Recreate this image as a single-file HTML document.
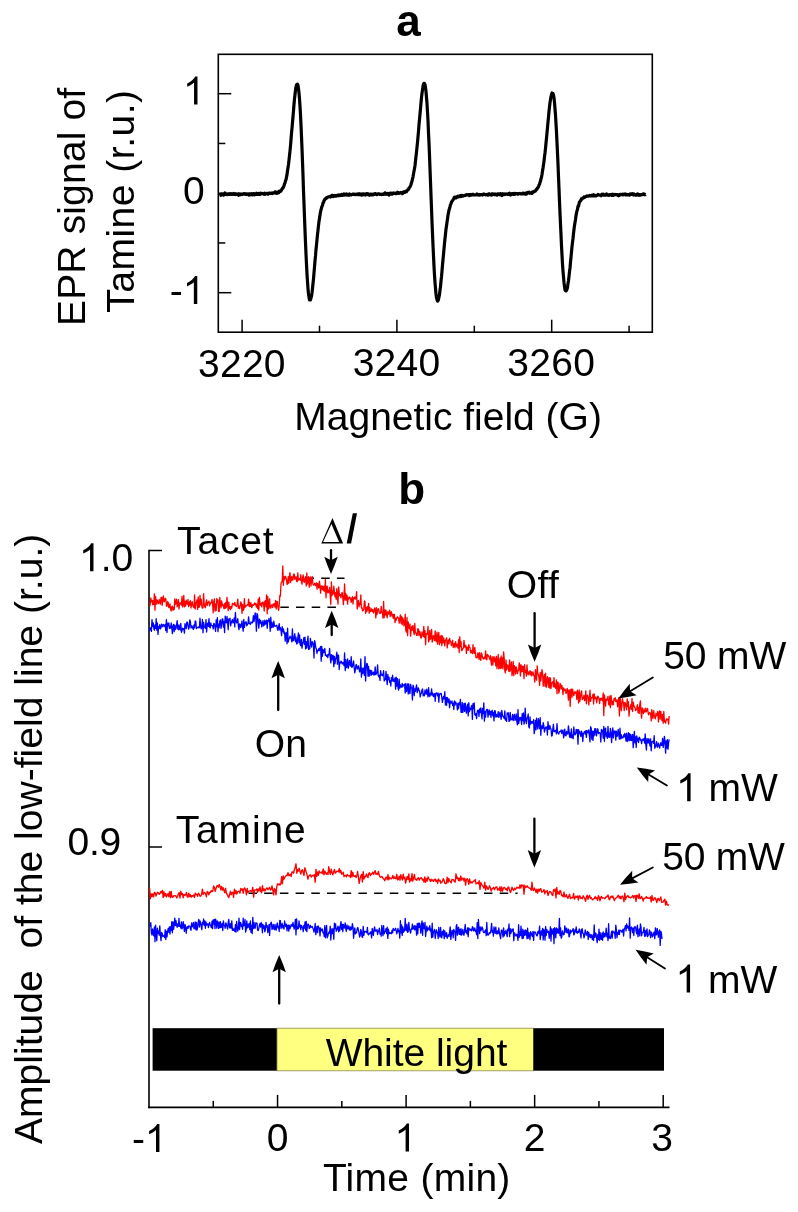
<!DOCTYPE html>
<html><head><meta charset="utf-8"><style>
html,body{margin:0;padding:0;background:#fff;}
body{width:798px;height:1212px;overflow:hidden;}
svg{display:block;will-change:transform;}
text{font-family:"Liberation Sans", sans-serif;fill:#000;}
</style></head><body>
<svg width="798" height="1212" viewBox="0 0 798 1212">
<rect width="798" height="1212" fill="#fff"/>
<rect x="218.3" y="54.3" width="433.99999999999994" height="277.9" fill="none" stroke="#000" stroke-width="1.6"/>
<line x1="218.30" y1="93.70" x2="231.30" y2="93.70" stroke="#000" stroke-width="1.5" />
<line x1="218.30" y1="143.45" x2="225.30" y2="143.45" stroke="#000" stroke-width="1.5" />
<line x1="218.30" y1="193.20" x2="231.30" y2="193.20" stroke="#000" stroke-width="1.5" />
<line x1="218.30" y1="242.95" x2="225.30" y2="242.95" stroke="#000" stroke-width="1.5" />
<line x1="218.30" y1="292.70" x2="231.30" y2="292.70" stroke="#000" stroke-width="1.5" />
<line x1="242.10" y1="332.20" x2="242.10" y2="319.70" stroke="#000" stroke-width="1.5" />
<line x1="319.50" y1="332.20" x2="319.50" y2="325.70" stroke="#000" stroke-width="1.5" />
<line x1="396.90" y1="332.20" x2="396.90" y2="319.70" stroke="#000" stroke-width="1.5" />
<line x1="474.30" y1="332.20" x2="474.30" y2="325.70" stroke="#000" stroke-width="1.5" />
<line x1="551.70" y1="332.20" x2="551.70" y2="319.70" stroke="#000" stroke-width="1.5" />
<line x1="629.10" y1="332.20" x2="629.10" y2="325.70" stroke="#000" stroke-width="1.5" />
<polyline points="220.5,193.5 221.0,195.3 221.5,194.1 222.0,194.5 222.5,194.5 223.0,194.4 223.5,195.1 224.0,194.4 224.5,194.6 225.0,193.0 225.5,194.2 226.0,194.4 226.5,194.4 227.0,194.6 227.5,194.7 228.0,194.4 228.5,194.1 229.0,194.4 229.5,193.9 230.0,194.4 230.5,194.3 231.0,193.7 231.5,194.0 232.0,194.5 232.5,194.3 233.0,194.0 233.5,193.5 234.0,194.4 234.5,194.3 235.0,193.8 235.5,194.6 236.0,194.4 236.5,193.9 237.0,194.0 237.5,194.2 238.0,194.0 238.5,195.3 239.0,193.8 239.5,194.6 240.0,194.9 240.5,194.1 241.0,193.9 241.5,194.4 242.0,194.6 242.5,194.2 243.0,194.2 243.5,193.6 244.0,193.9 244.5,194.1 245.0,193.7 245.5,194.2 246.0,194.5 246.5,193.9 247.0,193.9 247.5,194.2 248.0,194.4 248.5,194.0 249.0,195.1 249.5,193.8 250.0,193.9 250.5,194.7 251.0,194.1 251.5,194.5 252.0,193.8 252.5,194.9 253.0,194.4 253.5,193.8 254.0,193.6 254.5,194.9 255.0,194.2 255.5,193.9 256.0,194.2 256.5,193.3 257.0,194.4 257.5,193.8 258.0,194.4 258.5,193.4 259.0,193.9 259.5,194.0 260.0,194.6 260.5,193.2 261.0,193.5 261.5,193.5 262.0,193.4 262.5,193.7 263.0,194.0 263.5,194.1 264.0,194.0 264.5,193.2 265.0,194.3 265.5,193.9 266.0,193.8 266.5,193.5 267.0,193.3 267.5,194.0 268.0,194.2 268.5,193.5 269.0,193.0 269.5,193.1 270.0,193.3 270.5,193.5 271.0,193.2 271.5,193.3 272.0,192.9 272.5,193.5 273.0,193.0 273.5,193.1 274.0,192.7 274.5,192.8 275.0,191.8 275.5,192.1 276.0,192.0 276.5,193.4 277.0,192.6 277.5,192.5 278.0,191.9 278.5,192.9 279.0,191.3 279.5,191.1 280.0,191.8 280.5,191.3 281.0,190.8 281.5,190.0 282.0,189.2 282.5,188.0 283.0,188.1 283.5,186.8 284.0,185.9 284.5,184.0 285.0,182.9 285.5,180.8 286.0,179.8 286.5,177.1 287.0,174.7 287.5,170.7 288.0,167.7 288.5,164.3 289.0,160.2 289.5,155.3 290.0,150.9 290.5,145.8 291.0,139.7 291.5,133.2 292.0,128.3 292.5,122.4 293.0,116.6 293.5,110.7 294.0,104.3 294.5,98.9 295.0,94.5 295.5,90.3 296.0,87.1 296.5,84.9 297.0,84.4 297.5,84.1 298.0,85.4 298.5,88.7 299.0,93.0 299.5,99.0 300.0,106.3 300.5,114.6 301.0,125.3 301.5,136.6 302.0,148.6 302.5,161.9 303.0,175.3 303.5,190.9 304.0,203.6 304.5,217.6 305.0,230.4 305.5,242.6 306.0,254.0 306.5,264.5 307.0,274.1 307.5,281.5 308.0,288.8 308.5,293.8 309.0,297.1 309.5,299.9 310.0,299.7 310.5,299.8 311.0,297.9 311.5,296.2 312.0,292.9 312.5,288.5 313.0,283.5 313.5,278.8 314.0,272.8 314.5,267.2 315.0,260.8 315.5,255.9 316.0,249.5 316.5,244.8 317.0,239.7 317.5,234.7 318.0,230.3 318.5,225.6 319.0,221.4 319.5,218.3 320.0,215.0 320.5,211.9 321.0,210.0 321.5,207.9 322.0,206.2 322.5,205.2 323.0,202.8 323.5,202.7 324.0,200.7 324.5,200.1 325.0,199.0 325.5,198.8 326.0,198.6 326.5,197.7 327.0,197.8 327.5,197.3 328.0,197.0 328.5,196.8 329.0,196.7 329.5,196.8 330.0,196.4 330.5,197.0 331.0,196.1 331.5,196.4 332.0,195.4 332.5,195.3 333.0,196.5 333.5,195.6 334.0,195.7 334.5,196.0 335.0,195.3 335.5,195.6 336.0,196.1 336.5,195.5 337.0,195.4 337.5,195.2 338.0,195.7 338.5,195.0 339.0,194.9 339.5,195.6 340.0,195.4 340.5,195.1 341.0,195.3 341.5,194.3 342.0,194.9 342.5,195.4 343.0,195.3 343.5,195.0 344.0,194.0 344.5,195.0 345.0,194.8 345.5,194.6 346.0,194.8 346.5,193.9 347.0,195.0 347.5,194.5 348.0,194.7 348.5,194.5 349.0,195.2 349.5,194.0 350.0,194.7 350.5,194.7 351.0,195.0 351.5,194.9 352.0,194.4 352.5,194.2 353.0,194.3 353.5,194.1 354.0,194.3 354.5,194.6 355.0,194.2 355.5,194.3 356.0,194.6 356.5,194.3 357.0,194.0 357.5,194.4 358.0,194.7 358.5,194.2 359.0,193.7 359.5,194.6 360.0,194.5 360.5,194.5 361.0,194.0 361.5,195.2 362.0,194.3 362.5,194.0 363.0,194.8 363.5,193.8 364.0,194.2 364.5,194.6 365.0,194.3 365.5,195.0 366.0,194.6 366.5,193.6 367.0,194.7 367.5,193.6 368.0,194.4 368.5,193.9 369.0,194.3 369.5,195.2 370.0,194.5 370.5,194.2 371.0,194.8 371.5,194.8 372.0,194.1 372.5,194.5 373.0,194.9 373.5,194.5 374.0,193.9 374.5,194.4 375.0,193.8 375.5,193.6 376.0,194.2 376.5,194.6 377.0,194.7 377.5,194.2 378.0,193.8 378.5,194.0 379.0,193.9 379.5,194.3 380.0,194.0 380.5,194.3 381.0,194.2 381.5,194.6 382.0,194.7 382.5,194.2 383.0,194.5 383.5,194.4 384.0,193.7 384.5,194.0 385.0,192.8 385.5,193.6 386.0,194.2 386.5,193.6 387.0,193.8 387.5,194.2 388.0,193.4 388.5,194.1 389.0,195.0 389.5,193.5 390.0,194.0 390.5,193.2 391.0,194.0 391.5,194.2 392.0,193.1 392.5,194.1 393.0,193.5 393.5,193.0 394.0,193.5 394.5,193.5 395.0,193.4 395.5,193.1 396.0,193.7 396.5,193.1 397.0,193.1 397.5,192.3 398.0,193.4 398.5,193.5 399.0,192.8 399.5,193.2 400.0,192.9 400.5,192.9 401.0,192.4 401.5,193.0 402.0,192.7 402.5,193.6 403.0,192.8 403.5,191.8 404.0,192.5 404.5,192.3 405.0,192.4 405.5,191.4 406.0,191.3 406.5,191.6 407.0,190.5 407.5,190.2 408.0,189.5 408.5,189.5 409.0,187.9 409.5,187.6 410.0,186.9 410.5,185.9 411.0,184.5 411.5,182.6 412.0,181.3 412.5,178.8 413.0,176.8 413.5,173.9 414.0,171.3 414.5,168.5 415.0,165.7 415.5,160.9 416.0,156.5 416.5,152.1 417.0,147.1 417.5,142.3 418.0,136.8 418.5,131.4 419.0,124.8 419.5,119.4 420.0,114.0 420.5,108.7 421.0,102.9 421.5,97.3 422.0,93.3 422.5,90.0 423.0,86.2 423.5,84.1 424.0,83.3 424.5,83.5 425.0,84.7 425.5,87.6 426.0,91.5 426.5,97.5 427.0,103.4 427.5,112.0 428.0,120.6 428.5,132.8 429.0,143.2 429.5,155.4 430.0,168.9 430.5,182.0 431.0,195.4 431.5,208.5 432.0,221.8 432.5,233.9 433.0,245.2 433.5,255.9 434.0,266.2 434.5,275.0 435.0,282.5 435.5,288.4 436.0,294.1 436.5,297.8 437.0,299.5 437.5,301.1 438.0,300.8 438.5,299.3 439.0,297.0 439.5,294.6 440.0,290.1 440.5,286.8 441.0,281.0 441.5,276.7 442.0,271.2 442.5,264.9 443.0,259.7 443.5,254.4 444.0,248.9 444.5,243.4 445.0,238.6 445.5,234.0 446.0,229.2 446.5,225.9 447.0,222.2 447.5,218.9 448.0,215.2 448.5,212.6 449.0,210.1 449.5,208.5 450.0,206.7 450.5,204.7 451.0,203.8 451.5,202.1 452.0,201.2 452.5,200.8 453.0,199.9 453.5,199.2 454.0,198.0 454.5,197.2 455.0,197.8 455.5,197.5 456.0,198.1 456.5,196.9 457.0,196.8 457.5,197.0 458.0,196.1 458.5,196.9 459.0,196.3 459.5,196.0 460.0,196.5 460.5,195.6 461.0,195.4 461.5,196.3 462.0,196.3 462.5,195.4 463.0,195.6 463.5,196.0 464.0,195.6 464.5,195.5 465.0,195.5 465.5,195.0 466.0,195.2 466.5,194.6 467.0,194.7 467.5,195.0 468.0,194.8 468.5,194.6 469.0,194.8 469.5,195.6 470.0,194.7 470.5,195.0 471.0,194.4 471.5,195.0 472.0,194.8 472.5,194.8 473.0,194.3 473.5,194.8 474.0,195.0 474.5,194.8 475.0,195.0 475.5,194.8 476.0,194.8 476.5,194.7 477.0,194.0 477.5,194.9 478.0,194.7 478.5,194.8 479.0,194.5 479.5,195.2 480.0,195.0 480.5,194.7 481.0,194.5 481.5,194.7 482.0,194.8 482.5,195.0 483.0,194.4 483.5,194.0 484.0,194.5 484.5,194.5 485.0,194.4 485.5,194.9 486.0,194.7 486.5,194.7 487.0,194.4 487.5,194.5 488.0,195.0 488.5,194.1 489.0,193.8 489.5,194.6 490.0,194.3 490.5,194.4 491.0,194.2 491.5,195.1 492.0,193.8 492.5,194.6 493.0,193.9 493.5,194.4 494.0,194.6 494.5,194.5 495.0,194.0 495.5,194.7 496.0,194.5 496.5,194.6 497.0,195.1 497.5,193.8 498.0,194.1 498.5,194.4 499.0,193.9 499.5,194.7 500.0,194.4 500.5,193.6 501.0,193.9 501.5,195.2 502.0,195.6 502.5,194.7 503.0,193.8 503.5,194.4 504.0,194.3 504.5,194.0 505.0,194.6 505.5,194.1 506.0,193.9 506.5,194.0 507.0,194.0 507.5,194.4 508.0,194.0 508.5,194.3 509.0,193.6 509.5,193.1 510.0,194.4 510.5,195.0 511.0,194.3 511.5,193.9 512.0,193.6 512.5,193.6 513.0,194.3 513.5,194.3 514.0,193.5 514.5,194.4 515.0,193.5 515.5,194.0 516.0,193.6 516.5,193.6 517.0,193.6 517.5,193.5 518.0,194.2 518.5,193.7 519.0,193.8 519.5,193.7 520.0,193.3 520.5,193.8 521.0,194.0 521.5,194.0 522.0,193.8 522.5,193.3 523.0,193.9 523.5,193.1 524.0,193.4 524.5,193.6 525.0,194.0 525.5,193.3 526.0,193.1 526.5,194.0 527.0,192.8 527.5,192.5 528.0,193.0 528.5,192.9 529.0,192.1 529.5,192.5 530.0,193.2 530.5,192.8 531.0,192.7 531.5,192.6 532.0,193.4 532.5,192.0 533.0,192.4 533.5,191.9 534.0,191.8 534.5,191.1 535.0,191.2 535.5,191.1 536.0,190.1 536.5,189.2 537.0,189.3 537.5,187.9 538.0,187.5 538.5,186.9 539.0,184.9 539.5,184.5 540.0,182.3 540.5,181.1 541.0,178.8 541.5,177.2 542.0,174.5 542.5,170.9 543.0,168.1 543.5,164.7 544.0,161.1 544.5,156.7 545.0,153.0 545.5,148.3 546.0,143.0 546.5,138.2 547.0,132.9 547.5,127.4 548.0,122.1 548.5,117.0 549.0,111.3 549.5,106.9 550.0,102.6 550.5,99.4 551.0,96.6 551.5,94.8 552.0,93.0 552.5,93.4 553.0,93.6 553.5,95.0 554.0,97.8 554.5,102.4 555.0,108.8 555.5,115.1 556.0,123.7 556.5,132.1 557.0,142.6 557.5,153.1 558.0,164.0 558.5,176.7 559.0,188.5 559.5,201.4 560.0,213.3 560.5,224.1 561.0,234.8 561.5,245.9 562.0,255.1 562.5,264.1 563.0,271.1 563.5,276.9 564.0,282.4 564.5,286.6 565.0,289.7 565.5,290.6 566.0,290.9 566.5,290.5 567.0,289.2 567.5,287.6 568.0,283.4 568.5,280.5 569.0,276.4 569.5,271.6 570.0,268.0 570.5,262.2 571.0,257.2 571.5,252.0 572.0,246.7 572.5,242.2 573.0,238.5 573.5,233.6 574.0,229.2 574.5,225.4 575.0,222.5 575.5,219.4 576.0,215.6 576.5,213.0 577.0,210.8 577.5,209.4 578.0,206.2 578.5,206.4 579.0,204.0 579.5,201.8 580.0,201.7 580.5,200.6 581.0,200.4 581.5,198.7 582.0,199.2 582.5,198.1 583.0,197.8 583.5,197.9 584.0,196.9 584.5,197.5 585.0,197.0 585.5,196.6 586.0,196.6 586.5,196.1 587.0,195.8 587.5,196.2 588.0,196.2 588.5,196.1 589.0,196.0 589.5,195.4 590.0,195.8 590.5,195.5 591.0,195.6 591.5,195.9 592.0,195.2 592.5,195.9 593.0,195.4 593.5,194.8 594.0,195.8 594.5,195.3 595.0,195.9 595.5,195.4 596.0,195.8 596.5,195.3 597.0,195.4 597.5,195.1 598.0,194.5 598.5,195.0 599.0,194.8 599.5,195.1 600.0,195.1 600.5,195.3 601.0,195.7 601.5,194.9 602.0,194.3 602.5,194.7 603.0,195.1 603.5,194.2 604.0,195.1 604.5,195.1 605.0,195.3 605.5,195.2 606.0,194.9 606.5,194.0 607.0,194.9 607.5,195.2 608.0,195.0 608.5,194.9 609.0,195.4 609.5,194.7 610.0,194.5 610.5,194.6 611.0,194.5 611.5,195.2 612.0,195.4 612.5,194.2 613.0,194.3 613.5,195.3 614.0,194.6 614.5,194.7 615.0,194.4 615.5,194.6 616.0,194.8 616.5,194.6 617.0,194.6 617.5,194.6 618.0,195.4 618.5,195.8 619.0,194.9 619.5,195.3 620.0,194.5 620.5,194.3 621.0,194.5 621.5,194.7 622.0,194.6 622.5,194.1 623.0,194.9 623.5,194.2 624.0,194.3 624.5,194.5 625.0,194.0 625.5,194.8 626.0,194.2 626.5,194.9 627.0,194.9 627.5,195.0 628.0,194.4 628.5,194.9 629.0,194.5 629.5,195.0 630.0,194.1 630.5,193.8 631.0,194.4 631.5,193.9 632.0,194.3 632.5,193.7 633.0,194.5 633.5,195.1 634.0,193.9 634.5,194.6 635.0,194.9 635.5,194.8 636.0,195.2 636.5,194.6 637.0,194.9 637.5,193.9 638.0,194.2 638.5,195.2 639.0,195.1 639.5,194.7 640.0,195.3 640.5,194.5 641.0,194.5 641.5,194.8 642.0,194.7 642.5,194.3 643.0,193.9 643.5,193.9 644.0,194.5 644.5,194.1 645.0,194.8 645.5,194.3" fill="none" stroke="#000" stroke-width="3.2" stroke-linejoin="round"/>
<line x1="149.00" y1="549.80" x2="149.00" y2="1108.15" stroke="#000" stroke-width="1.6" />
<line x1="148.20" y1="1107.40" x2="669.50" y2="1107.40" stroke="#000" stroke-width="1.6" />
<line x1="149.00" y1="550.50" x2="162.00" y2="550.50" stroke="#000" stroke-width="1.5" />
<line x1="149.00" y1="847.00" x2="162.00" y2="847.00" stroke="#000" stroke-width="1.5" />
<line x1="213.28" y1="1107.40" x2="213.28" y2="1100.90" stroke="#000" stroke-width="1.5" />
<line x1="277.55" y1="1107.40" x2="277.55" y2="1094.90" stroke="#000" stroke-width="1.5" />
<line x1="341.83" y1="1107.40" x2="341.83" y2="1100.90" stroke="#000" stroke-width="1.5" />
<line x1="406.10" y1="1107.40" x2="406.10" y2="1094.90" stroke="#000" stroke-width="1.5" />
<line x1="470.38" y1="1107.40" x2="470.38" y2="1100.90" stroke="#000" stroke-width="1.5" />
<line x1="534.65" y1="1107.40" x2="534.65" y2="1094.90" stroke="#000" stroke-width="1.5" />
<line x1="598.93" y1="1107.40" x2="598.93" y2="1100.90" stroke="#000" stroke-width="1.5" />
<line x1="663.20" y1="1107.40" x2="663.20" y2="1094.90" stroke="#000" stroke-width="1.5" />
<rect x="152.6" y="1028.2" width="124.4" height="42.5" fill="#000"/>
<rect x="277.0" y="1028.2" width="256.4" height="42.6" fill="#FFFF80" stroke="#8a8a50" stroke-width="0.8"/>
<rect x="533.4" y="1028.2" width="130.6" height="42.5" fill="#000"/>
<line x1="280.3" y1="607.2" x2="336.0" y2="607.2" stroke="#000" stroke-width="1.6" stroke-dasharray="8.5,7.2"/>
<line x1="305.5" y1="578.3" x2="344.5" y2="578.3" stroke="#000" stroke-width="1.6" stroke-dasharray="8.5,7.2"/>
<line x1="248.5" y1="893.3" x2="517.6" y2="893.3" stroke="#000" stroke-width="1.6" stroke-dasharray="8.5,7.2"/>
<polyline points="149.6,606.6 150.2,604.0 150.8,598.0 151.4,601.5 152.0,600.3 152.6,604.6 153.2,600.6 153.8,604.4 154.4,593.9 155.0,610.2 155.6,596.5 156.2,604.2 156.8,600.0 157.4,600.4 158.0,603.8 158.6,603.7 159.2,599.5 159.8,601.3 160.4,604.2 161.0,597.3 161.6,597.5 162.2,605.4 162.8,598.5 163.4,595.8 164.0,601.8 164.6,601.2 165.2,598.3 165.8,598.9 166.4,605.4 167.0,606.5 167.6,601.7 168.2,602.2 168.8,607.6 169.4,607.5 170.0,603.9 170.6,609.6 171.2,611.0 171.8,606.7 172.4,606.2 173.0,610.4 173.6,607.3 174.2,609.5 174.8,598.8 175.4,604.3 176.0,602.4 176.6,599.2 177.2,606.9 177.8,605.1 178.4,599.6 179.0,608.9 179.6,603.2 180.2,604.0 180.8,602.8 181.4,605.2 182.0,596.3 182.6,606.9 183.2,603.9 183.8,595.5 184.4,606.9 185.0,601.4 185.6,606.1 186.2,600.2 186.8,603.7 187.4,604.3 188.0,599.5 188.6,606.7 189.2,601.9 189.8,605.1 190.4,600.6 191.0,608.0 191.6,603.7 192.2,601.7 192.8,605.9 193.4,606.8 194.0,607.7 194.6,594.9 195.2,609.0 195.8,603.6 196.4,602.3 197.0,599.9 197.6,609.4 198.2,596.8 198.8,607.4 199.4,607.0 200.0,595.5 200.6,604.8 201.2,599.1 201.8,606.2 202.4,608.2 203.0,608.0 203.6,593.7 204.2,604.0 204.8,606.6 205.4,607.7 206.0,602.2 206.6,599.9 207.2,605.5 207.8,602.7 208.4,602.6 209.0,601.0 209.6,605.9 210.2,603.9 210.8,602.6 211.4,602.8 212.0,599.3 212.6,603.9 213.2,612.8 213.8,601.2 214.4,599.0 215.0,611.0 215.6,603.8 216.2,610.7 216.8,598.5 217.4,602.5 218.0,599.9 218.6,611.4 219.2,611.5 219.8,597.5 220.4,603.7 221.0,607.9 221.6,600.9 222.2,605.3 222.8,604.2 223.4,606.3 224.0,608.7 224.6,603.6 225.2,608.5 225.8,602.4 226.4,607.3 227.0,597.3 227.6,603.8 228.2,610.7 228.8,602.2 229.4,608.6 230.0,606.7 230.6,609.5 231.2,606.4 231.8,608.0 232.4,603.6 233.0,603.4 233.6,604.2 234.2,605.1 234.8,602.4 235.4,605.4 236.0,606.1 236.6,606.5 237.2,603.8 237.8,599.1 238.4,608.2 239.0,606.2 239.6,608.7 240.2,605.5 240.8,601.9 241.4,603.6 242.0,613.4 242.6,604.5 243.2,610.3 243.8,609.6 244.4,598.6 245.0,607.5 245.6,605.8 246.2,606.0 246.8,605.8 247.4,604.6 248.0,605.0 248.6,599.1 249.2,606.5 249.8,602.3 250.4,606.3 251.0,602.8 251.6,607.6 252.2,606.6 252.8,604.5 253.4,605.4 254.0,604.6 254.6,603.0 255.2,604.9 255.8,603.3 256.4,607.0 257.0,604.3 257.6,608.5 258.2,599.2 258.8,610.2 259.4,597.4 260.0,603.5 260.6,605.4 261.2,603.2 261.8,606.9 262.4,602.4 263.0,602.1 263.6,603.6 264.2,611.0 264.8,601.4 265.4,600.7 266.0,606.8 266.6,594.9 267.2,613.8 267.8,596.6 268.4,609.0 269.0,606.0 269.6,598.8 270.2,608.2 270.8,607.9 271.4,604.9 272.0,605.0 272.6,607.7 273.2,603.8 273.8,605.7 274.4,603.7 275.0,607.2 275.6,600.4 276.2,609.0 276.8,601.6 277.4,601.6 278.0,607.7 278.6,610.3 279.2,605.8 279.8,595.6 280.4,596.1 281.0,583.9 281.6,581.8 282.2,581.8 282.8,566.0 283.4,585.3 284.0,576.8 284.6,579.7 285.2,576.2 285.8,577.2 286.4,579.1 287.0,584.3 287.6,584.2 288.2,576.7 288.8,583.2 289.4,576.4 290.0,572.6 290.6,582.4 291.2,580.0 291.8,576.3 292.4,580.1 293.0,579.8 293.6,574.1 294.2,574.1 294.8,579.4 295.4,577.2 296.0,576.6 296.6,581.4 297.2,581.7 297.8,572.8 298.4,580.2 299.0,579.5 299.6,578.5 300.2,580.2 300.8,574.7 301.4,581.2 302.0,584.1 302.6,577.9 303.2,575.0 303.8,581.8 304.4,582.3 305.0,578.2 305.6,576.7 306.2,585.9 306.8,572.9 307.4,584.0 308.0,579.6 308.6,576.6 309.2,587.3 309.8,580.7 310.4,577.0 311.0,586.0 311.6,579.8 312.2,576.5 312.8,583.4 313.4,585.1 314.0,585.2 314.6,583.1 315.2,583.7 315.8,585.7 316.4,582.8 317.0,589.1 317.6,583.5 318.2,585.9 318.8,588.0 319.4,581.1 320.0,585.3 320.6,593.2 321.2,585.8 321.8,585.9 322.4,589.6 323.0,586.1 323.6,590.6 324.2,586.4 324.8,591.7 325.4,579.2 326.0,597.8 326.6,586.8 327.2,586.2 327.8,592.9 328.4,590.4 329.0,592.7 329.6,587.4 330.2,595.2 330.8,604.4 331.4,581.9 332.0,595.7 332.6,591.0 333.2,594.0 333.8,586.2 334.4,591.9 335.0,596.8 335.6,592.6 336.2,599.5 336.8,588.6 337.4,595.6 338.0,604.1 338.6,586.8 339.2,592.4 339.8,595.8 340.4,594.6 341.0,597.9 341.6,594.1 342.2,592.3 342.8,597.4 343.4,604.6 344.0,596.1 344.6,584.0 345.2,600.1 345.8,593.5 346.4,600.2 347.0,595.2 347.6,604.1 348.2,597.4 348.8,599.1 349.4,596.9 350.0,597.4 350.6,599.3 351.2,602.3 351.8,598.3 352.4,596.6 353.0,604.0 353.6,597.8 354.2,598.7 354.8,596.8 355.4,599.0 356.0,598.6 356.6,591.6 357.2,609.1 357.8,602.0 358.4,600.5 359.0,606.8 359.6,603.2 360.2,604.5 360.8,595.0 361.4,608.0 362.0,607.7 362.6,610.8 363.2,610.5 363.8,609.1 364.4,601.0 365.0,601.7 365.6,613.4 366.2,607.3 366.8,611.7 367.4,606.6 368.0,609.8 368.6,603.4 369.2,613.3 369.8,607.3 370.4,611.7 371.0,610.9 371.6,608.8 372.2,611.4 372.8,609.6 373.4,613.0 374.0,611.0 374.6,607.8 375.2,609.4 375.8,617.9 376.4,607.7 377.0,614.7 377.6,611.0 378.2,608.6 378.8,609.6 379.4,613.2 380.0,612.4 380.6,613.5 381.2,606.4 381.8,611.8 382.4,612.6 383.0,618.0 383.6,601.3 384.2,617.7 384.8,609.8 385.4,614.9 386.0,610.2 386.6,614.8 387.2,617.8 387.8,611.7 388.4,614.1 389.0,613.9 389.6,610.1 390.2,616.7 390.8,612.3 391.4,611.8 392.0,615.9 392.6,614.3 393.2,618.5 393.8,614.5 394.4,614.4 395.0,622.7 395.6,618.2 396.2,620.4 396.8,618.0 397.4,616.9 398.0,617.3 398.6,618.7 399.2,623.2 399.8,618.7 400.4,614.9 401.0,623.1 401.6,616.4 402.2,624.8 402.8,617.9 403.4,620.4 404.0,625.9 404.6,623.6 405.2,614.2 405.8,630.4 406.4,632.1 407.0,617.4 407.6,635.6 408.2,621.9 408.8,627.1 409.4,628.5 410.0,624.0 410.6,636.1 411.2,629.1 411.8,626.3 412.4,630.2 413.0,625.3 413.6,631.8 414.2,634.7 414.8,623.5 415.4,632.6 416.0,632.8 416.6,635.4 417.2,635.3 417.8,628.6 418.4,629.2 419.0,635.6 419.6,631.1 420.2,632.8 420.8,637.8 421.4,637.9 422.0,632.0 422.6,632.8 423.2,636.4 423.8,626.5 424.4,637.3 425.0,630.7 425.6,644.8 426.2,633.5 426.8,634.2 427.4,634.1 428.0,626.5 428.6,641.8 429.2,640.0 429.8,630.3 430.4,639.3 431.0,637.4 431.6,629.5 432.2,642.2 432.8,640.0 433.4,635.5 434.0,636.5 434.6,640.3 435.2,630.9 435.8,640.7 436.4,641.7 437.0,632.2 437.6,644.1 438.2,635.8 438.8,632.4 439.4,644.6 440.0,636.3 440.6,642.5 441.2,635.3 441.8,645.7 442.4,636.0 443.0,643.0 443.6,638.0 444.2,640.7 444.8,645.8 445.4,640.1 446.0,639.7 446.6,637.8 447.2,647.9 447.8,642.7 448.4,639.8 449.0,643.8 449.6,638.5 450.2,640.8 450.8,641.6 451.4,645.7 452.0,643.8 452.6,640.4 453.2,647.5 453.8,645.5 454.4,643.4 455.0,647.7 455.6,641.7 456.2,644.7 456.8,646.7 457.4,644.1 458.0,648.1 458.6,639.7 459.2,652.6 459.8,636.7 460.4,646.6 461.0,641.5 461.6,650.7 462.2,650.1 462.8,648.5 463.4,648.2 464.0,640.3 464.6,647.1 465.2,647.2 465.8,645.2 466.4,653.4 467.0,647.0 467.6,647.7 468.2,650.4 468.8,644.7 469.4,647.3 470.0,647.6 470.6,652.8 471.2,650.5 471.8,651.9 472.4,653.7 473.0,644.7 473.6,651.8 474.2,653.4 474.8,647.4 475.4,653.1 476.0,657.7 476.6,657.8 477.2,657.7 477.8,652.9 478.4,654.0 479.0,659.4 479.6,652.6 480.2,657.8 480.8,660.4 481.4,653.0 482.0,655.0 482.6,657.7 483.2,659.1 483.8,657.9 484.4,657.0 485.0,659.2 485.6,651.0 486.2,657.3 486.8,659.9 487.4,654.5 488.0,655.0 488.6,656.3 489.2,657.2 489.8,659.5 490.4,655.6 491.0,661.7 491.6,665.2 492.2,656.6 492.8,664.9 493.4,659.4 494.0,656.3 494.6,661.9 495.2,658.2 495.8,665.9 496.4,656.5 497.0,668.7 497.6,662.3 498.2,654.5 498.8,668.9 499.4,667.4 500.0,658.1 500.6,668.4 501.2,655.9 501.8,667.8 502.4,658.0 503.0,668.9 503.6,651.9 504.2,658.4 504.8,670.8 505.4,672.9 506.0,659.9 506.6,669.8 507.2,665.2 507.8,665.0 508.4,669.3 509.0,671.7 509.6,660.0 510.2,671.2 510.8,667.7 511.4,661.9 512.0,675.6 512.6,672.1 513.2,661.4 513.8,675.7 514.4,665.6 515.0,667.6 515.6,674.0 516.2,666.9 516.8,669.5 517.4,673.7 518.0,671.1 518.6,670.2 519.2,662.8 519.8,666.0 520.4,676.0 521.0,664.6 521.6,671.9 522.2,666.1 522.8,671.4 523.4,666.3 524.0,678.6 524.6,664.7 525.2,672.4 525.8,670.9 526.4,676.2 527.0,664.9 527.6,674.2 528.2,671.6 528.8,674.8 529.4,673.6 530.0,670.6 530.6,674.8 531.2,671.7 531.8,675.9 532.4,672.8 533.0,671.9 533.6,675.3 534.2,675.9 534.8,682.2 535.4,669.6 536.0,677.1 536.6,680.2 537.2,665.9 537.8,673.0 538.4,674.7 539.0,677.8 539.6,685.4 540.2,672.3 540.8,680.9 541.4,674.9 542.0,669.6 542.6,674.2 543.2,686.2 543.8,678.3 544.4,674.7 545.0,686.1 545.6,673.2 546.2,687.3 546.8,684.6 547.4,676.6 548.0,679.3 548.6,687.2 549.2,677.6 549.8,688.0 550.4,677.9 551.0,688.5 551.6,682.9 552.2,682.4 552.8,681.8 553.4,686.8 554.0,677.6 554.6,687.0 555.2,684.1 555.8,688.4 556.4,680.0 557.0,693.8 557.6,682.1 558.2,682.6 558.8,693.1 559.4,690.3 560.0,683.5 560.6,684.3 561.2,689.0 561.8,685.4 562.4,688.2 563.0,694.6 563.6,687.9 564.2,689.2 564.8,690.7 565.4,689.3 566.0,693.4 566.6,692.5 567.2,688.3 567.8,692.4 568.4,700.2 569.0,689.7 569.6,691.1 570.2,706.4 570.8,689.6 571.4,689.1 572.0,697.3 572.6,689.1 573.2,693.2 573.8,695.6 574.4,692.8 575.0,691.5 575.6,693.4 576.2,692.1 576.8,699.5 577.4,690.1 578.0,693.8 578.6,703.0 579.2,689.8 579.8,701.3 580.4,697.6 581.0,692.9 581.6,690.9 582.2,699.7 582.8,697.7 583.4,698.6 584.0,695.1 584.6,700.7 585.2,699.7 585.8,690.9 586.4,703.8 587.0,695.6 587.6,695.1 588.2,697.4 588.8,704.9 589.4,698.4 590.0,690.2 590.6,701.3 591.2,697.6 591.8,697.9 592.4,696.9 593.0,694.1 593.6,704.0 594.2,693.9 594.8,698.9 595.4,697.2 596.0,697.2 596.6,702.8 597.2,699.2 597.8,696.1 598.4,696.9 599.0,699.1 599.6,703.5 600.2,698.3 600.8,700.1 601.4,698.1 602.0,699.3 602.6,701.0 603.2,693.0 603.8,715.7 604.4,694.8 605.0,699.5 605.6,706.1 606.2,699.2 606.8,700.4 607.4,698.6 608.0,696.3 608.6,704.2 609.2,705.1 609.8,696.2 610.4,707.7 611.0,695.4 611.6,700.9 612.2,704.9 612.8,701.2 613.4,704.7 614.0,698.6 614.6,700.1 615.2,697.7 615.8,701.6 616.4,701.1 617.0,699.9 617.6,706.8 618.2,700.7 618.8,697.7 619.4,715.9 620.0,697.2 620.6,701.1 621.2,710.8 621.8,706.7 622.4,698.7 623.0,701.4 623.6,703.7 624.2,710.7 624.8,702.3 625.4,702.9 626.0,706.6 626.6,709.9 627.2,698.9 627.8,706.7 628.4,701.7 629.0,716.1 629.6,709.3 630.2,706.9 630.8,704.6 631.4,709.4 632.0,698.5 632.6,711.5 633.2,702.2 633.8,705.0 634.4,707.0 635.0,707.7 635.6,710.6 636.2,709.8 636.8,708.2 637.4,704.7 638.0,712.6 638.6,707.3 639.2,713.4 639.8,704.0 640.4,700.9 641.0,712.2 641.6,718.1 642.2,708.0 642.8,708.5 643.4,713.6 644.0,710.7 644.6,712.0 645.2,708.1 645.8,711.9 646.4,711.6 647.0,708.6 647.6,708.4 648.2,713.8 648.8,714.9 649.4,712.6 650.0,712.8 650.6,713.3 651.2,720.9 651.8,709.6 652.4,716.3 653.0,718.6 653.6,710.6 654.2,714.7 654.8,717.5 655.4,718.8 656.0,713.2 656.6,715.9 657.2,715.1 657.8,711.3 658.4,721.9 659.0,713.6 659.6,710.9 660.2,719.2 660.8,711.3 661.4,716.6 662.0,720.6 662.6,714.5 663.2,723.3 663.8,711.3 664.4,721.8 665.0,720.3 665.6,723.2 666.2,720.1 666.8,718.7 667.4,719.5 668.0,719.4 668.6,724.1 669.2,716.0" fill="none" stroke="#ff0000" stroke-width="1.3" stroke-linejoin="round"/>
<polyline points="149.6,630.6 150.2,627.7 150.8,628.1 151.4,631.4 152.0,619.6 152.6,626.3 153.2,622.8 153.8,628.3 154.4,630.3 155.0,624.8 155.6,628.3 156.2,618.7 156.8,630.1 157.4,622.9 158.0,634.4 158.6,626.7 159.2,628.4 159.8,624.7 160.4,628.8 161.0,627.8 161.6,624.1 162.2,625.2 162.8,626.9 163.4,624.5 164.0,625.4 164.6,626.5 165.2,624.4 165.8,630.7 166.4,619.6 167.0,632.4 167.6,623.2 168.2,625.9 168.8,622.8 169.4,628.6 170.0,626.3 170.6,628.1 171.2,623.0 171.8,628.3 172.4,633.6 173.0,625.6 173.6,624.4 174.2,631.6 174.8,625.1 175.4,629.5 176.0,628.4 176.6,624.7 177.2,620.7 177.8,629.0 178.4,629.7 179.0,624.8 179.6,629.2 180.2,629.8 180.8,623.4 181.4,632.3 182.0,630.8 182.6,628.1 183.2,629.2 183.8,628.8 184.4,633.1 185.0,623.6 185.6,626.2 186.2,628.7 186.8,622.1 187.4,622.2 188.0,625.7 188.6,629.1 189.2,627.3 189.8,619.8 190.4,621.8 191.0,628.0 191.6,625.9 192.2,626.2 192.8,628.5 193.4,629.4 194.0,624.8 194.6,627.8 195.2,620.9 195.8,621.4 196.4,628.7 197.0,627.9 197.6,627.5 198.2,626.9 198.8,627.8 199.4,627.6 200.0,618.2 200.6,626.1 201.2,628.8 201.8,627.4 202.4,619.5 203.0,632.8 203.6,622.5 204.2,625.9 204.8,627.4 205.4,628.3 206.0,619.6 206.6,632.0 207.2,624.7 207.8,623.1 208.4,626.3 209.0,618.6 209.6,627.3 210.2,627.8 210.8,623.0 211.4,625.7 212.0,625.6 212.6,625.8 213.2,628.9 213.8,623.3 214.4,624.0 215.0,627.2 215.6,631.3 216.2,619.8 216.8,626.8 217.4,617.6 218.0,631.6 218.6,624.1 219.2,627.6 219.8,621.3 220.4,619.9 221.0,628.4 221.6,624.6 222.2,618.8 222.8,619.1 223.4,627.0 224.0,621.5 224.6,632.6 225.2,616.1 225.8,621.6 226.4,622.9 227.0,616.5 227.6,621.8 228.2,629.6 228.8,618.9 229.4,620.0 230.0,618.2 230.6,625.9 231.2,623.1 231.8,621.2 232.4,619.5 233.0,623.0 233.6,622.0 234.2,617.8 234.8,626.9 235.4,612.3 236.0,620.3 236.6,622.9 237.2,622.4 237.8,618.7 238.4,626.3 239.0,629.6 239.6,623.9 240.2,624.5 240.8,627.5 241.4,625.3 242.0,620.8 242.6,627.1 243.2,631.1 243.8,619.5 244.4,627.4 245.0,623.4 245.6,621.9 246.2,621.9 246.8,625.8 247.4,624.4 248.0,623.6 248.6,616.8 249.2,623.5 249.8,623.6 250.4,624.3 251.0,622.0 251.6,622.6 252.2,623.0 252.8,621.1 253.4,615.6 254.0,621.7 254.6,617.6 255.2,612.9 255.8,618.4 256.4,631.2 257.0,613.5 257.6,614.8 258.2,622.9 258.8,628.1 259.4,619.1 260.0,623.5 260.6,620.4 261.2,622.2 261.8,626.9 262.4,623.1 263.0,620.7 263.6,625.8 264.2,625.0 264.8,620.1 265.4,624.1 266.0,623.3 266.6,620.1 267.2,628.3 267.8,620.7 268.4,621.3 269.0,618.3 269.6,621.7 270.2,631.3 270.8,617.2 271.4,627.6 272.0,622.3 272.6,627.0 273.2,627.3 273.8,621.2 274.4,625.5 275.0,626.3 275.6,626.0 276.2,625.7 276.8,625.1 277.4,629.2 278.0,630.4 278.6,626.7 279.2,623.6 279.8,630.0 280.4,627.6 281.0,630.4 281.6,635.6 282.2,626.7 282.8,631.6 283.4,628.9 284.0,633.4 284.6,632.2 285.2,641.2 285.8,633.4 286.4,632.8 287.0,643.8 287.6,628.2 288.2,642.0 288.8,639.4 289.4,638.0 290.0,636.1 290.6,638.1 291.2,637.3 291.8,641.9 292.4,628.9 293.0,640.8 293.6,640.3 294.2,636.7 294.8,633.6 295.4,641.5 296.0,637.2 296.6,643.9 297.2,643.6 297.8,637.9 298.4,633.0 299.0,642.7 299.6,634.9 300.2,644.6 300.8,645.8 301.4,639.4 302.0,648.1 302.6,643.6 303.2,641.7 303.8,637.6 304.4,644.3 305.0,637.1 305.6,648.9 306.2,641.7 306.8,648.0 307.4,642.2 308.0,636.1 308.6,649.4 309.2,646.4 309.8,648.8 310.4,638.3 311.0,643.1 311.6,647.0 312.2,641.7 312.8,642.7 313.4,644.7 314.0,658.0 314.6,640.6 315.2,642.9 315.8,647.9 316.4,649.0 317.0,653.3 317.6,650.3 318.2,650.7 318.8,648.7 319.4,650.7 320.0,648.0 320.6,646.5 321.2,661.1 321.8,646.5 322.4,656.3 323.0,649.3 323.6,652.6 324.2,652.3 324.8,648.3 325.4,655.4 326.0,655.2 326.6,656.4 327.2,654.8 327.8,657.6 328.4,654.4 329.0,654.8 329.6,648.5 330.2,657.3 330.8,662.9 331.4,654.6 332.0,659.8 332.6,655.4 333.2,655.7 333.8,666.7 334.4,656.5 335.0,663.7 335.6,658.7 336.2,657.6 336.8,652.2 337.4,664.3 338.0,654.8 338.6,655.5 339.2,669.5 339.8,662.3 340.4,663.1 341.0,661.2 341.6,662.1 342.2,664.0 342.8,662.5 343.4,662.8 344.0,665.5 344.6,652.9 345.2,670.6 345.8,659.6 346.4,667.7 347.0,666.6 347.6,658.9 348.2,668.3 348.8,665.8 349.4,660.5 350.0,663.7 350.6,666.0 351.2,656.7 351.8,667.3 352.4,667.0 353.0,663.9 353.6,661.0 354.2,667.6 354.8,672.9 355.4,669.4 356.0,664.7 356.6,664.8 357.2,669.1 357.8,668.3 358.4,666.0 359.0,668.6 359.6,671.9 360.2,671.7 360.8,659.0 361.4,677.1 362.0,668.5 362.6,673.7 363.2,667.9 363.8,671.6 364.4,675.3 365.0,656.6 365.6,681.0 366.2,668.5 366.8,663.5 367.4,663.8 368.0,676.2 368.6,666.5 369.2,676.2 369.8,670.1 370.4,670.3 371.0,675.3 371.6,670.7 372.2,674.3 372.8,674.0 373.4,672.2 374.0,675.0 374.6,674.5 375.2,666.9 375.8,674.6 376.4,673.6 377.0,672.7 377.6,664.8 378.2,675.4 378.8,676.8 379.4,675.1 380.0,680.4 380.6,670.7 381.2,675.0 381.8,674.4 382.4,675.8 383.0,674.5 383.6,670.6 384.2,681.0 384.8,679.9 385.4,679.5 386.0,671.4 386.6,678.5 387.2,684.7 387.8,674.4 388.4,679.5 389.0,677.1 389.6,682.3 390.2,680.6 390.8,686.0 391.4,677.6 392.0,680.8 392.6,675.2 393.2,681.3 393.8,679.4 394.4,681.6 395.0,677.8 395.6,689.1 396.2,677.1 396.8,686.0 397.4,678.7 398.0,687.5 398.6,690.0 399.2,679.2 399.8,688.0 400.4,684.8 401.0,687.0 401.6,687.1 402.2,683.3 402.8,686.9 403.4,684.9 404.0,684.9 404.6,684.1 405.2,693.0 405.8,683.4 406.4,691.5 407.0,689.0 407.6,683.8 408.2,694.0 408.8,683.9 409.4,692.7 410.0,693.5 410.6,684.4 411.2,687.4 411.8,688.0 412.4,700.0 413.0,685.2 413.6,686.5 414.2,695.7 414.8,688.9 415.4,691.3 416.0,687.7 416.6,685.0 417.2,692.6 417.8,689.2 418.4,687.8 419.0,690.9 419.6,690.7 420.2,697.0 420.8,693.8 421.4,693.3 422.0,689.8 422.6,689.0 423.2,695.9 423.8,694.0 424.4,695.8 425.0,689.8 425.6,692.5 426.2,694.4 426.8,689.2 427.4,691.8 428.0,696.9 428.6,687.7 429.2,695.2 429.8,696.5 430.4,693.2 431.0,694.9 431.6,689.0 432.2,695.2 432.8,693.2 433.4,696.7 434.0,694.7 434.6,693.7 435.2,701.3 435.8,693.4 436.4,692.8 437.0,693.1 437.6,695.8 438.2,693.1 438.8,702.1 439.4,694.7 440.0,693.4 440.6,694.0 441.2,693.5 441.8,697.5 442.4,702.3 443.0,698.4 443.6,696.3 444.2,698.9 444.8,691.7 445.4,704.9 446.0,697.4 446.6,705.3 447.2,697.4 447.8,699.2 448.4,702.6 449.0,698.8 449.6,707.8 450.2,701.0 450.8,703.2 451.4,703.2 452.0,701.0 452.6,705.3 453.2,703.1 453.8,709.5 454.4,701.0 455.0,705.1 455.6,701.8 456.2,703.7 456.8,704.0 457.4,709.9 458.0,703.1 458.6,708.6 459.2,702.8 459.8,704.7 460.4,699.4 461.0,712.2 461.6,712.5 462.2,702.3 462.8,712.4 463.4,707.8 464.0,703.4 464.6,711.4 465.2,703.2 465.8,708.3 466.4,713.1 467.0,707.0 467.6,704.1 468.2,715.9 468.8,702.7 469.4,711.6 470.0,708.5 470.6,709.6 471.2,706.9 471.8,705.3 472.4,719.4 473.0,703.6 473.6,708.6 474.2,702.9 474.8,714.8 475.4,715.2 476.0,713.7 476.6,718.6 477.2,711.9 477.8,710.1 478.4,710.6 479.0,716.5 479.6,708.9 480.2,712.3 480.8,707.8 481.4,713.7 482.0,718.9 482.6,708.5 483.2,713.7 483.8,702.8 484.4,721.2 485.0,711.6 485.6,717.1 486.2,710.3 486.8,709.4 487.4,709.4 488.0,717.2 488.6,712.3 489.2,709.9 489.8,714.9 490.4,711.4 491.0,717.5 491.6,711.3 492.2,710.3 492.8,715.9 493.4,712.5 494.0,720.9 494.6,710.6 495.2,710.9 495.8,717.0 496.4,714.4 497.0,716.8 497.6,715.9 498.2,711.6 498.8,717.4 499.4,715.8 500.0,712.1 500.6,716.2 501.2,719.3 501.8,710.3 502.4,715.1 503.0,716.6 503.6,717.0 504.2,718.6 504.8,710.9 505.4,720.0 506.0,718.5 506.6,721.4 507.2,712.8 507.8,714.2 508.4,712.8 509.0,721.5 509.6,720.8 510.2,712.4 510.8,719.9 511.4,719.7 512.0,719.4 512.6,714.5 513.2,720.6 513.8,716.5 514.4,714.4 515.0,720.4 515.6,718.9 516.2,714.0 516.8,721.4 517.4,724.8 518.0,709.6 518.6,723.5 519.2,720.7 519.8,717.3 520.4,719.9 521.0,717.5 521.6,724.5 522.2,713.7 522.8,720.5 523.4,712.8 524.0,724.2 524.6,720.8 525.2,708.1 525.8,720.0 526.4,723.7 527.0,718.2 527.6,717.3 528.2,714.0 528.8,726.7 529.4,728.0 530.0,716.8 530.6,724.2 531.2,722.9 531.8,721.3 532.4,723.0 533.0,723.0 533.6,719.6 534.2,733.7 534.8,729.2 535.4,720.3 536.0,729.8 536.6,718.1 537.2,724.8 537.8,729.0 538.4,718.7 539.0,722.1 539.6,728.6 540.2,717.7 540.8,735.3 541.4,726.0 542.0,726.0 542.6,728.7 543.2,722.6 543.8,725.3 544.4,732.2 545.0,729.9 545.6,727.2 546.2,728.1 546.8,726.9 547.4,735.0 548.0,721.6 548.6,728.9 549.2,729.4 549.8,725.5 550.4,728.0 551.0,728.9 551.6,736.0 552.2,735.6 552.8,729.1 553.4,724.4 554.0,731.5 554.6,731.6 555.2,730.5 555.8,730.4 556.4,733.9 557.0,723.6 557.6,732.7 558.2,733.4 558.8,734.0 559.4,731.7 560.0,731.6 560.6,731.5 561.2,729.9 561.8,733.5 562.4,731.3 563.0,730.0 563.6,737.8 564.2,734.7 564.8,729.1 565.4,735.3 566.0,735.8 566.6,731.5 567.2,732.7 567.8,734.2 568.4,725.9 569.0,730.3 569.6,737.1 570.2,733.0 570.8,737.5 571.4,728.9 572.0,737.9 572.6,735.2 573.2,738.6 573.8,727.0 574.4,733.3 575.0,734.9 575.6,733.9 576.2,729.3 576.8,733.0 577.4,729.7 578.0,744.1 578.6,729.6 579.2,733.7 579.8,731.4 580.4,734.7 581.0,736.5 581.6,731.1 582.2,734.0 582.8,741.5 583.4,733.3 584.0,732.8 584.6,731.5 585.2,734.0 585.8,730.7 586.4,737.4 587.0,730.4 587.6,731.7 588.2,732.9 588.8,729.9 589.4,735.6 590.0,741.9 590.6,726.7 591.2,728.0 591.8,739.3 592.4,731.1 593.0,740.4 593.6,731.2 594.2,735.8 594.8,728.7 595.4,728.6 596.0,735.0 596.6,735.8 597.2,728.9 597.8,728.8 598.4,733.6 599.0,732.5 599.6,732.7 600.2,733.6 600.8,742.0 601.4,729.5 602.0,731.5 602.6,730.2 603.2,738.1 603.8,726.3 604.4,741.3 605.0,729.1 605.6,728.1 606.2,736.7 606.8,732.9 607.4,738.3 608.0,726.3 608.6,737.0 609.2,733.4 609.8,737.3 610.4,728.3 611.0,733.1 611.6,742.5 612.2,733.0 612.8,727.9 613.4,737.9 614.0,731.0 614.6,733.2 615.2,731.2 615.8,740.2 616.4,731.1 617.0,736.4 617.6,734.8 618.2,729.3 618.8,734.8 619.4,739.1 620.0,728.2 620.6,738.8 621.2,734.7 621.8,738.1 622.4,737.2 623.0,737.8 623.6,734.9 624.2,737.0 624.8,733.4 625.4,735.7 626.0,740.8 626.6,733.1 627.2,741.6 627.8,739.1 628.4,732.7 629.0,740.8 629.6,733.7 630.2,740.3 630.8,734.5 631.4,740.5 632.0,738.3 632.6,734.3 633.2,747.7 633.8,738.8 634.4,731.4 635.0,742.9 635.6,737.0 636.2,747.5 636.8,735.9 637.4,741.1 638.0,738.5 638.6,742.5 639.2,737.1 639.8,737.8 640.4,740.0 641.0,739.7 641.6,743.6 642.2,740.0 642.8,739.1 643.4,740.3 644.0,738.5 644.6,743.2 645.2,733.8 645.8,744.0 646.4,750.0 647.0,738.5 647.6,740.0 648.2,743.2 648.8,738.6 649.4,740.9 650.0,746.0 650.6,739.0 651.2,750.8 651.8,741.6 652.4,741.7 653.0,741.1 653.6,743.4 654.2,735.7 654.8,748.3 655.4,746.7 656.0,744.6 656.6,741.6 657.2,747.3 657.8,745.8 658.4,743.1 659.0,746.2 659.6,748.1 660.2,744.9 660.8,742.7 661.4,745.4 662.0,745.1 662.6,738.3 663.2,747.4 663.8,743.5 664.4,736.3 665.0,741.2 665.6,753.1 666.2,741.0 666.8,748.2 667.4,739.7 668.0,749.3 668.6,742.6 669.2,739.4" fill="none" stroke="#0000ff" stroke-width="1.3" stroke-linejoin="round"/>
<polyline points="149.6,888.0 150.4,898.7 151.2,893.8 152.0,896.5 152.8,893.8 153.6,896.9 154.4,892.5 155.2,892.8 156.0,896.1 156.8,893.7 157.6,892.3 158.4,892.9 159.2,894.4 160.0,893.5 160.8,891.5 161.6,892.8 162.4,890.3 163.2,897.6 164.0,891.8 164.8,896.1 165.6,893.4 166.4,896.9 167.2,895.2 168.0,893.5 168.8,896.6 169.6,891.6 170.4,897.6 171.2,891.5 172.0,897.2 172.8,897.4 173.6,895.7 174.4,895.8 175.2,895.6 176.0,896.3 176.8,898.0 177.6,896.2 178.4,893.8 179.2,892.6 180.0,898.0 180.8,891.2 181.6,894.5 182.4,893.5 183.2,897.8 184.0,894.4 184.8,895.3 185.6,894.9 186.4,892.4 187.2,896.5 188.0,897.2 188.8,893.2 189.6,896.5 190.4,894.7 191.2,897.2 192.0,895.6 192.8,896.2 193.6,895.0 194.4,897.6 195.2,893.1 196.0,894.7 196.8,894.1 197.6,896.4 198.4,893.2 199.2,894.1 200.0,896.4 200.8,896.0 201.6,894.5 202.4,889.1 203.2,894.5 204.0,892.8 204.8,892.5 205.6,893.9 206.4,896.9 207.2,891.4 208.0,892.1 208.8,894.8 209.6,892.4 210.4,892.6 211.2,890.4 212.0,891.5 212.8,891.1 213.6,886.0 214.4,887.6 215.2,891.4 216.0,888.5 216.8,886.0 217.6,885.7 218.4,887.2 219.2,884.4 220.0,886.3 220.8,889.9 221.6,886.4 222.4,890.2 223.2,887.7 224.0,890.6 224.8,892.7 225.6,888.3 226.4,893.4 227.2,894.2 228.0,896.1 228.8,897.6 229.6,894.8 230.4,891.3 231.2,894.8 232.0,892.4 232.8,892.5 233.6,897.3 234.4,889.2 235.2,893.6 236.0,890.7 236.8,894.0 237.6,891.7 238.4,891.5 239.2,891.1 240.0,893.2 240.8,888.4 241.6,890.1 242.4,889.0 243.2,893.3 244.0,888.3 244.8,888.0 245.6,889.9 246.4,894.8 247.2,888.4 248.0,892.4 248.8,891.3 249.6,891.2 250.4,890.4 251.2,891.4 252.0,890.9 252.8,887.5 253.6,897.1 254.4,890.3 255.2,890.0 256.0,889.9 256.8,889.0 257.6,892.3 258.4,888.9 259.2,890.8 260.0,886.9 260.8,891.3 261.6,892.7 262.4,885.7 263.2,890.9 264.0,888.6 264.8,891.0 265.6,890.0 266.4,888.2 267.2,887.9 268.0,889.7 268.8,888.6 269.6,887.5 270.4,890.0 271.2,889.4 272.0,885.9 272.8,890.0 273.6,894.9 274.4,888.5 275.2,889.8 276.0,894.8 276.8,886.4 277.6,883.8 278.4,884.9 279.2,883.8 280.0,885.1 280.8,883.9 281.6,876.7 282.4,883.7 283.2,875.9 284.0,879.2 284.8,877.3 285.6,876.4 286.4,875.3 287.2,875.5 288.0,872.6 288.8,875.6 289.6,875.3 290.4,874.1 291.2,876.5 292.0,871.9 292.8,871.9 293.6,873.2 294.4,869.4 295.2,867.2 296.0,863.8 296.8,873.3 297.6,869.7 298.4,871.1 299.2,868.2 300.0,871.6 300.8,874.1 301.6,870.6 302.4,869.7 303.2,872.5 304.0,875.5 304.8,867.8 305.6,870.3 306.4,872.9 307.2,875.3 308.0,879.2 308.8,876.2 309.6,875.1 310.4,874.8 311.2,877.1 312.0,876.0 312.8,875.2 313.6,875.9 314.4,874.6 315.2,882.2 316.0,869.4 316.8,876.4 317.6,872.0 318.4,875.3 319.2,870.9 320.0,872.9 320.8,872.7 321.6,872.0 322.4,873.6 323.2,868.9 324.0,874.8 324.8,870.9 325.6,872.9 326.4,874.4 327.2,872.8 328.0,874.6 328.8,866.6 329.6,872.1 330.4,874.4 331.2,869.2 332.0,872.5 332.8,874.9 333.6,872.0 334.4,869.4 335.2,873.2 336.0,872.4 336.8,871.2 337.6,871.3 338.4,871.8 339.2,868.7 340.0,872.7 340.8,870.3 341.6,874.2 342.4,873.9 343.2,872.2 344.0,876.6 344.8,875.6 345.6,875.3 346.4,876.9 347.2,874.5 348.0,875.4 348.8,876.0 349.6,875.5 350.4,877.6 351.2,870.6 352.0,876.9 352.8,872.3 353.6,876.2 354.4,876.4 355.2,875.4 356.0,877.6 356.8,876.0 357.6,871.5 358.4,877.0 359.2,883.4 360.0,878.9 360.8,876.2 361.6,874.4 362.4,882.0 363.2,871.6 364.0,879.0 364.8,876.4 365.6,876.9 366.4,873.9 367.2,876.0 368.0,877.6 368.8,873.4 369.6,872.8 370.4,875.5 371.2,874.3 372.0,873.5 372.8,872.2 373.6,874.6 374.4,872.1 375.2,870.7 376.0,874.4 376.8,873.4 377.6,874.4 378.4,871.5 379.2,875.1 380.0,876.9 380.8,877.3 381.6,876.4 382.4,877.0 383.2,878.6 384.0,879.1 384.8,880.7 385.6,877.9 386.4,877.1 387.2,879.6 388.0,874.6 388.8,879.9 389.6,877.4 390.4,878.5 391.2,879.0 392.0,877.8 392.8,875.5 393.6,878.5 394.4,876.8 395.2,878.5 396.0,878.5 396.8,874.3 397.6,879.8 398.4,879.4 399.2,876.1 400.0,880.2 400.8,874.6 401.6,878.0 402.4,880.0 403.2,874.2 404.0,878.6 404.8,877.1 405.6,883.2 406.4,879.5 407.2,876.5 408.0,879.3 408.8,874.0 409.6,882.2 410.4,878.7 411.2,880.8 412.0,873.6 412.8,881.2 413.6,877.9 414.4,874.5 415.2,879.6 416.0,879.2 416.8,880.3 417.6,878.5 418.4,877.8 419.2,880.1 420.0,878.4 420.8,877.9 421.6,877.7 422.4,880.1 423.2,879.2 424.0,882.1 424.8,876.9 425.6,882.3 426.4,878.6 427.2,881.0 428.0,876.9 428.8,878.6 429.6,879.6 430.4,881.4 431.2,879.2 432.0,880.9 432.8,879.8 433.6,881.4 434.4,879.5 435.2,879.0 436.0,881.5 436.8,880.1 437.6,883.4 438.4,879.0 439.2,881.0 440.0,880.3 440.8,883.2 441.6,881.7 442.4,881.7 443.2,878.7 444.0,879.8 444.8,883.3 445.6,883.5 446.4,883.5 447.2,877.2 448.0,882.5 448.8,878.5 449.6,880.9 450.4,881.5 451.2,882.9 452.0,879.3 452.8,879.6 453.6,879.9 454.4,881.8 455.2,882.1 456.0,873.8 456.8,878.5 457.6,877.3 458.4,880.5 459.2,878.2 460.0,881.0 460.8,875.9 461.6,880.0 462.4,878.6 463.2,878.1 464.0,881.0 464.8,878.3 465.6,885.1 466.4,879.6 467.2,878.6 468.0,880.6 468.8,884.4 469.6,878.9 470.4,882.8 471.2,881.9 472.0,883.0 472.8,881.9 473.6,881.0 474.4,881.1 475.2,879.5 476.0,883.9 476.8,883.3 477.6,882.7 478.4,883.9 479.2,880.7 480.0,889.4 480.8,882.5 481.6,884.1 482.4,885.7 483.2,886.5 484.0,888.1 484.8,882.3 485.6,890.1 486.4,885.9 487.2,887.6 488.0,889.4 488.8,888.1 489.6,885.8 490.4,888.1 491.2,891.1 492.0,888.7 492.8,888.4 493.6,887.3 494.4,889.7 495.2,888.1 496.0,887.0 496.8,887.0 497.6,890.0 498.4,888.7 499.2,890.3 500.0,886.8 500.8,891.4 501.6,886.9 502.4,891.2 503.2,888.7 504.0,887.4 504.8,887.7 505.6,889.5 506.4,888.6 507.2,890.9 508.0,887.2 508.8,887.1 509.6,890.3 510.4,892.6 511.2,890.7 512.0,887.1 512.8,889.5 513.6,890.3 514.4,888.2 515.2,889.6 516.0,888.8 516.8,887.1 517.6,888.0 518.4,887.5 519.2,888.2 520.0,884.8 520.8,888.0 521.6,885.0 522.4,885.9 523.2,885.1 524.0,894.1 524.8,885.2 525.6,887.6 526.4,886.9 527.2,885.8 528.0,887.4 528.8,887.8 529.6,888.2 530.4,888.6 531.2,890.3 532.0,882.1 532.8,890.0 533.6,890.5 534.4,888.0 535.2,889.5 536.0,892.4 536.8,889.2 537.6,893.2 538.4,889.1 539.2,891.3 540.0,889.1 540.8,888.6 541.6,892.1 542.4,891.8 543.2,890.8 544.0,889.5 544.8,893.8 545.6,891.3 546.4,891.8 547.2,890.5 548.0,895.4 548.8,893.3 549.6,891.5 550.4,891.7 551.2,892.6 552.0,894.8 552.8,895.5 553.6,889.7 554.4,891.1 555.2,888.9 556.0,897.9 556.8,887.5 557.6,893.9 558.4,891.9 559.2,894.3 560.0,890.4 560.8,891.4 561.6,895.6 562.4,895.2 563.2,896.9 564.0,892.0 564.8,896.9 565.6,896.4 566.4,894.5 567.2,897.4 568.0,898.2 568.8,896.0 569.6,894.3 570.4,898.5 571.2,898.1 572.0,897.2 572.8,897.9 573.6,893.5 574.4,899.1 575.2,897.8 576.0,896.0 576.8,897.4 577.6,896.0 578.4,900.1 579.2,895.9 580.0,896.0 580.8,898.5 581.6,897.6 582.4,898.7 583.2,895.7 584.0,897.2 584.8,898.9 585.6,901.4 586.4,896.9 587.2,895.2 588.0,899.3 588.8,896.5 589.6,895.4 590.4,898.3 591.2,897.5 592.0,899.2 592.8,899.9 593.6,898.9 594.4,898.4 595.2,896.5 596.0,898.5 596.8,897.7 597.6,900.3 598.4,895.6 599.2,897.3 600.0,900.8 600.8,897.5 601.6,896.5 602.4,898.3 603.2,897.8 604.0,897.8 604.8,898.8 605.6,897.6 606.4,896.5 607.2,896.8 608.0,894.9 608.8,898.6 609.6,899.8 610.4,897.0 611.2,896.1 612.0,897.5 612.8,896.0 613.6,898.5 614.4,900.5 615.2,898.8 616.0,897.9 616.8,897.6 617.6,896.2 618.4,895.2 619.2,898.1 620.0,896.3 620.8,898.9 621.6,896.7 622.4,895.9 623.2,898.2 624.0,901.7 624.8,893.1 625.6,899.6 626.4,897.0 627.2,896.2 628.0,895.6 628.8,897.4 629.6,897.1 630.4,897.9 631.2,897.4 632.0,896.8 632.8,895.4 633.6,898.0 634.4,895.9 635.2,895.5 636.0,901.3 636.8,895.2 637.6,895.6 638.4,898.3 639.2,893.8 640.0,898.7 640.8,898.2 641.6,896.4 642.4,898.3 643.2,901.1 644.0,898.5 644.8,898.2 645.6,898.1 646.4,896.5 647.2,898.1 648.0,897.7 648.8,898.4 649.6,898.4 650.4,896.8 651.2,901.9 652.0,895.5 652.8,900.1 653.6,900.3 654.4,898.0 655.2,897.8 656.0,899.7 656.8,902.5 657.6,898.9 658.4,898.4 659.2,900.8 660.0,898.9 660.8,896.9 661.6,902.2 662.4,902.2 663.2,902.1 664.0,900.3 664.8,899.2 665.6,905.1 666.4,901.2 667.2,904.6 668.0,905.3 668.8,904.3" fill="none" stroke="#ff0000" stroke-width="1.35" stroke-linejoin="round"/>
<polyline points="149.6,925.3 150.2,926.0 150.8,922.7 151.4,933.4 152.0,935.1 152.6,929.0 153.2,932.6 153.8,935.9 154.4,927.0 155.0,941.7 155.6,925.1 156.2,934.6 156.8,940.8 157.4,928.1 158.0,933.3 158.6,931.1 159.2,935.1 159.8,925.9 160.4,934.7 161.0,940.6 161.6,932.5 162.2,933.6 162.8,936.6 163.4,936.1 164.0,935.5 164.6,937.6 165.2,929.6 165.8,939.4 166.4,931.1 167.0,936.9 167.6,931.3 168.2,928.4 168.8,932.1 169.4,926.8 170.0,934.0 170.6,926.7 171.2,930.3 171.8,921.7 172.4,932.8 173.0,921.8 173.6,929.3 174.2,924.5 174.8,918.1 175.4,925.5 176.0,920.7 176.6,925.3 177.2,927.4 177.8,923.7 178.4,926.2 179.0,918.4 179.6,926.4 180.2,925.2 180.8,928.0 181.4,921.9 182.0,928.9 182.6,927.3 183.2,921.6 183.8,926.7 184.4,931.4 185.0,924.5 185.6,926.5 186.2,933.3 186.8,927.9 187.4,926.8 188.0,928.4 188.6,926.0 189.2,926.0 189.8,926.2 190.4,928.7 191.0,930.4 191.6,923.0 192.2,926.9 192.8,925.7 193.4,922.4 194.0,928.8 194.6,928.4 195.2,921.8 195.8,929.7 196.4,922.5 197.0,930.2 197.6,927.7 198.2,922.3 198.8,919.3 199.4,927.0 200.0,921.0 200.6,922.8 201.2,926.1 201.8,929.7 202.4,922.5 203.0,924.2 203.6,919.0 204.2,925.4 204.8,920.9 205.4,928.3 206.0,922.0 206.6,925.1 207.2,924.4 207.8,923.8 208.4,927.7 209.0,924.4 209.6,922.4 210.2,925.1 210.8,925.7 211.4,927.7 212.0,921.1 212.6,928.5 213.2,919.8 213.8,924.0 214.4,919.3 215.0,928.7 215.6,919.2 216.2,922.0 216.8,928.2 217.4,921.0 218.0,922.4 218.6,928.4 219.2,922.2 219.8,927.6 220.4,921.7 221.0,927.5 221.6,927.0 222.2,923.3 222.8,930.5 223.4,920.9 224.0,924.8 224.6,925.6 225.2,928.3 225.8,922.8 226.4,924.3 227.0,926.9 227.6,929.2 228.2,922.4 228.8,919.3 229.4,927.2 230.0,928.1 230.6,923.6 231.2,928.0 231.8,920.9 232.4,930.4 233.0,928.4 233.6,930.4 234.2,929.0 234.8,931.4 235.4,924.7 236.0,932.1 236.6,921.5 237.2,927.8 237.8,931.2 238.4,927.3 239.0,918.2 239.6,929.6 240.2,922.3 240.8,922.7 241.4,926.6 242.0,925.0 242.6,929.3 243.2,918.2 243.8,925.8 244.4,925.4 245.0,919.5 245.6,932.0 246.2,929.5 246.8,920.9 247.4,927.8 248.0,924.3 248.6,927.1 249.2,923.3 249.8,929.7 250.4,921.0 251.0,932.3 251.6,925.3 252.2,933.7 252.8,917.3 253.4,928.5 254.0,922.3 254.6,927.9 255.2,928.2 255.8,922.9 256.4,923.3 257.0,923.1 257.6,930.0 258.2,930.6 258.8,928.7 259.4,925.2 260.0,923.6 260.6,927.1 261.2,922.5 261.8,924.0 262.4,932.8 263.0,924.5 263.6,928.4 264.2,925.7 264.8,931.8 265.4,929.9 266.0,922.5 266.6,927.1 267.2,925.5 267.8,932.6 268.4,929.5 269.0,924.6 269.6,935.4 270.2,924.1 270.8,923.2 271.4,922.2 272.0,929.5 272.6,928.1 273.2,924.3 273.8,928.6 274.4,929.8 275.0,924.3 275.6,928.9 276.2,930.2 276.8,925.0 277.4,923.0 278.0,927.8 278.6,926.5 279.2,931.5 279.8,920.5 280.4,920.7 281.0,928.5 281.6,925.9 282.2,923.5 282.8,927.9 283.4,925.7 284.0,929.0 284.6,921.0 285.2,924.6 285.8,926.7 286.4,924.1 287.0,930.8 287.6,925.9 288.2,925.0 288.8,931.1 289.4,925.5 290.0,928.7 290.6,927.3 291.2,924.4 291.8,925.8 292.4,926.2 293.0,922.3 293.6,926.4 294.2,929.2 294.8,925.6 295.4,919.4 296.0,934.9 296.6,918.8 297.2,929.2 297.8,927.0 298.4,928.7 299.0,920.8 299.6,926.8 300.2,924.8 300.8,929.6 301.4,925.3 302.0,927.3 302.6,927.1 303.2,931.7 303.8,925.5 304.4,928.2 305.0,922.0 305.6,930.2 306.2,921.5 306.8,931.7 307.4,926.0 308.0,923.9 308.6,924.6 309.2,928.6 309.8,927.9 310.4,925.4 311.0,927.3 311.6,927.2 312.2,926.5 312.8,928.1 313.4,929.2 314.0,932.1 314.6,928.5 315.2,923.5 315.8,934.7 316.4,930.2 317.0,926.3 317.6,932.7 318.2,925.9 318.8,927.5 319.4,928.1 320.0,935.9 320.6,927.8 321.2,930.8 321.8,929.9 322.4,929.0 323.0,932.8 323.6,932.4 324.2,936.5 324.8,925.6 325.4,937.8 326.0,931.7 326.6,925.3 327.2,937.9 327.8,936.2 328.4,933.8 329.0,931.9 329.6,933.1 330.2,926.2 330.8,940.0 331.4,932.4 332.0,928.6 332.6,933.6 333.2,928.8 333.8,939.3 334.4,923.2 335.0,928.3 335.6,924.0 336.2,931.3 336.8,930.0 337.4,928.6 338.0,926.2 338.6,931.8 339.2,927.1 339.8,930.8 340.4,925.1 341.0,921.6 341.6,929.4 342.2,924.3 342.8,931.7 343.4,924.3 344.0,927.7 344.6,928.0 345.2,922.8 345.8,928.8 346.4,931.3 347.0,924.9 347.6,928.4 348.2,929.0 348.8,925.9 349.4,928.5 350.0,930.4 350.6,926.9 351.2,929.7 351.8,928.7 352.4,923.7 353.0,927.0 353.6,938.3 354.2,931.7 354.8,927.9 355.4,933.9 356.0,933.1 356.6,932.6 357.2,928.7 357.8,927.4 358.4,929.8 359.0,933.1 359.6,937.0 360.2,935.5 360.8,929.3 361.4,931.7 362.0,936.8 362.6,937.4 363.2,926.4 363.8,935.3 364.4,932.2 365.0,931.1 365.6,931.8 366.2,931.7 366.8,932.8 367.4,927.3 368.0,934.5 368.6,934.8 369.2,933.5 369.8,933.7 370.4,932.0 371.0,932.1 371.6,937.9 372.2,928.3 372.8,932.4 373.4,935.3 374.0,929.6 374.6,926.9 375.2,931.2 375.8,930.3 376.4,931.0 377.0,929.5 377.6,934.5 378.2,931.3 378.8,930.9 379.4,928.2 380.0,934.1 380.6,933.5 381.2,936.2 381.8,925.5 382.4,931.4 383.0,935.7 383.6,925.6 384.2,933.8 384.8,931.8 385.4,931.5 386.0,928.7 386.6,933.5 387.2,927.2 387.8,938.4 388.4,929.1 389.0,933.9 389.6,932.5 390.2,933.4 390.8,932.8 391.4,933.7 392.0,930.5 392.6,932.8 393.2,928.3 393.8,930.0 394.4,930.3 395.0,929.3 395.6,928.2 396.2,931.0 396.8,933.8 397.4,931.1 398.0,928.5 398.6,931.9 399.2,930.8 399.8,938.1 400.4,920.6 401.0,932.8 401.6,924.9 402.2,935.4 402.8,926.8 403.4,932.4 404.0,929.1 404.6,931.0 405.2,918.4 405.8,929.3 406.4,930.7 407.0,924.2 407.6,932.3 408.2,931.7 408.8,922.4 409.4,928.8 410.0,930.9 410.6,933.2 411.2,928.8 411.8,929.0 412.4,924.1 413.0,929.3 413.6,928.2 414.2,925.6 414.8,930.0 415.4,926.0 416.0,926.6 416.6,935.1 417.2,923.7 417.8,933.7 418.4,923.2 419.0,927.4 419.6,923.1 420.2,927.0 420.8,933.2 421.4,925.1 422.0,921.0 422.6,935.3 423.2,923.0 423.8,928.1 424.4,928.8 425.0,922.4 425.6,936.5 426.2,930.8 426.8,926.1 427.4,930.9 428.0,928.0 428.6,928.1 429.2,929.9 429.8,925.6 430.4,931.0 431.0,929.1 431.6,937.6 432.2,923.1 432.8,937.2 433.4,931.6 434.0,930.8 434.6,929.4 435.2,938.5 435.8,934.1 436.4,929.9 437.0,931.8 437.6,933.5 438.2,938.5 438.8,927.4 439.4,934.9 440.0,937.1 440.6,927.5 441.2,935.7 441.8,937.9 442.4,931.3 443.0,934.9 443.6,930.0 444.2,938.6 444.8,930.9 445.4,935.7 446.0,936.7 446.6,932.6 447.2,938.3 447.8,935.6 448.4,934.8 449.0,936.6 449.6,931.9 450.2,926.9 450.8,939.5 451.4,934.6 452.0,930.5 452.6,930.9 453.2,937.8 453.8,929.3 454.4,931.8 455.0,931.3 455.6,940.4 456.2,926.2 456.8,924.5 457.4,935.2 458.0,928.4 458.6,927.3 459.2,934.3 459.8,929.3 460.4,934.8 461.0,928.6 461.6,935.2 462.2,932.2 462.8,929.3 463.4,934.8 464.0,935.2 464.6,929.9 465.2,924.5 465.8,932.5 466.4,930.7 467.0,933.8 467.6,927.8 468.2,936.7 468.8,927.8 469.4,930.1 470.0,929.0 470.6,930.3 471.2,929.2 471.8,931.0 472.4,926.6 473.0,927.3 473.6,930.8 474.2,930.2 474.8,928.0 475.4,931.5 476.0,930.2 476.6,934.7 477.2,922.6 477.8,938.5 478.4,919.5 479.0,927.8 479.6,933.7 480.2,926.8 480.8,930.8 481.4,929.5 482.0,927.0 482.6,928.2 483.2,931.6 483.8,932.7 484.4,932.6 485.0,930.9 485.6,929.9 486.2,935.6 486.8,922.3 487.4,934.4 488.0,935.2 488.6,934.5 489.2,932.6 489.8,933.6 490.4,932.4 491.0,929.8 491.6,923.4 492.2,932.4 492.8,930.6 493.4,936.2 494.0,926.9 494.6,930.0 495.2,933.3 495.8,927.1 496.4,933.2 497.0,934.0 497.6,930.9 498.2,933.5 498.8,928.0 499.4,932.8 500.0,935.7 500.6,938.6 501.2,930.8 501.8,930.0 502.4,932.7 503.0,937.0 503.6,927.9 504.2,935.9 504.8,931.7 505.4,933.7 506.0,930.2 506.6,933.9 507.2,936.6 507.8,929.1 508.4,930.7 509.0,924.0 509.6,936.7 510.2,928.6 510.8,933.7 511.4,931.5 512.0,929.1 512.6,931.1 513.2,928.8 513.8,940.8 514.4,932.7 515.0,934.1 515.6,935.6 516.2,935.9 516.8,934.1 517.4,935.6 518.0,940.3 518.6,924.7 519.2,937.3 519.8,932.0 520.4,935.5 521.0,926.1 521.6,934.6 522.2,938.7 522.8,929.2 523.4,938.2 524.0,931.0 524.6,935.3 525.2,929.9 525.8,934.8 526.4,930.6 527.0,938.7 527.6,928.2 528.2,938.3 528.8,932.5 529.4,935.0 530.0,939.7 530.6,931.7 531.2,932.8 531.8,935.4 532.4,936.5 533.0,931.4 533.6,940.4 534.2,932.0 534.8,932.4 535.4,932.1 536.0,934.0 536.6,935.5 537.2,935.9 537.8,931.9 538.4,931.1 539.0,933.7 539.6,926.1 540.2,939.5 540.8,933.8 541.4,930.8 542.0,935.2 542.6,928.3 543.2,939.9 543.8,929.5 544.4,931.3 545.0,940.1 545.6,926.5 546.2,935.5 546.8,929.3 547.4,932.1 548.0,932.5 548.6,931.2 549.2,938.3 549.8,934.1 550.4,926.8 551.0,941.2 551.6,929.0 552.2,932.1 552.8,934.2 553.4,928.6 554.0,943.6 554.6,927.6 555.2,929.8 555.8,937.8 556.4,928.0 557.0,933.0 557.6,928.9 558.2,932.8 558.8,933.4 559.4,918.3 560.0,935.6 560.6,928.0 561.2,938.1 561.8,936.9 562.4,931.0 563.0,933.4 563.6,934.8 564.2,934.1 564.8,925.9 565.4,929.9 566.0,932.4 566.6,928.2 567.2,932.9 567.8,932.8 568.4,929.1 569.0,936.8 569.6,935.8 570.2,929.8 570.8,933.0 571.4,930.9 572.0,931.4 572.6,930.0 573.2,928.6 573.8,934.9 574.4,934.1 575.0,929.6 575.6,931.8 576.2,927.0 576.8,933.0 577.4,933.2 578.0,931.3 578.6,932.5 579.2,929.0 579.8,929.8 580.4,933.7 581.0,938.0 581.6,929.5 582.2,928.8 582.8,933.3 583.4,933.7 584.0,937.8 584.6,935.5 585.2,929.8 585.8,932.0 586.4,935.0 587.0,934.9 587.6,931.5 588.2,939.5 588.8,932.3 589.4,936.8 590.0,934.5 590.6,937.5 591.2,934.6 591.8,936.7 592.4,939.5 593.0,934.9 593.6,940.4 594.2,924.9 594.8,937.4 595.4,933.2 596.0,933.3 596.6,938.4 597.2,942.7 597.8,934.6 598.4,939.6 599.0,929.1 599.6,940.3 600.2,932.7 600.8,939.0 601.4,939.4 602.0,933.2 602.6,940.3 603.2,931.8 603.8,937.2 604.4,933.4 605.0,936.6 605.6,934.6 606.2,928.1 606.8,936.8 607.4,933.5 608.0,940.6 608.6,923.7 609.2,938.0 609.8,936.4 610.4,938.7 611.0,935.1 611.6,931.5 612.2,938.2 612.8,930.8 613.4,932.7 614.0,932.2 614.6,932.2 615.2,938.3 615.8,925.2 616.4,930.0 617.0,937.8 617.6,932.5 618.2,934.3 618.8,930.1 619.4,934.5 620.0,930.2 620.6,930.3 621.2,930.7 621.8,932.2 622.4,930.9 623.0,929.2 623.6,936.0 624.2,929.2 624.8,928.0 625.4,925.7 626.0,930.9 626.6,923.8 627.2,928.1 627.8,926.0 628.4,927.2 629.0,930.4 629.6,917.9 630.2,938.2 630.8,928.2 631.4,927.0 632.0,927.9 632.6,932.6 633.2,928.1 633.8,935.5 634.4,926.8 635.0,927.2 635.6,926.9 636.2,932.1 636.8,933.9 637.4,925.1 638.0,936.7 638.6,931.8 639.2,928.8 639.8,935.9 640.4,923.8 641.0,927.0 641.6,935.8 642.2,932.8 642.8,932.6 643.4,931.4 644.0,927.5 644.6,936.3 645.2,930.5 645.8,936.0 646.4,932.2 647.0,928.8 647.6,936.7 648.2,934.9 648.8,934.8 649.4,930.0 650.0,931.3 650.6,937.7 651.2,932.2 651.8,933.2 652.4,936.9 653.0,935.5 653.6,933.6 654.2,932.0 654.8,938.6 655.4,927.8 656.0,934.9 656.6,934.4 657.2,928.3 657.8,932.9 658.4,937.2 659.0,931.7 659.6,929.9 660.2,945.4 660.8,931.3 661.4,933.2 662.0,939.0" fill="none" stroke="#0000ff" stroke-width="1.3" stroke-linejoin="round"/>
<line x1="331.00" y1="550.15" x2="331.00" y2="560.30" stroke="#000" stroke-width="2.3" stroke-linecap="round"/>
<path d="M331.00,574.00 Q327.15,565.35 324.30,556.70 L331.00,560.30 L337.70,556.70 Q334.85,565.35 331.00,574.00 Z" fill="#000"/>
<line x1="331.70" y1="635.05" x2="331.70" y2="624.50" stroke="#000" stroke-width="2.3" stroke-linecap="round"/>
<path d="M331.70,610.80 Q335.55,619.45 338.40,628.10 L331.70,624.50 L325.00,628.10 Q327.85,619.45 331.70,610.80 Z" fill="#000"/>
<line x1="278.20" y1="710.05" x2="278.20" y2="674.70" stroke="#000" stroke-width="2.3" stroke-linecap="round"/>
<path d="M278.20,661.00 Q282.05,669.65 284.90,678.30 L278.20,674.70 L271.50,678.30 Q274.35,669.65 278.20,661.00 Z" fill="#000"/>
<line x1="534.60" y1="613.25" x2="534.60" y2="648.10" stroke="#000" stroke-width="2.3" stroke-linecap="round"/>
<path d="M534.60,661.80 Q530.75,653.15 527.90,644.50 L534.60,648.10 L541.30,644.50 Q538.45,653.15 534.60,661.80 Z" fill="#000"/>
<line x1="534.40" y1="818.65" x2="534.40" y2="853.70" stroke="#000" stroke-width="2.3" stroke-linecap="round"/>
<path d="M534.40,867.40 Q530.55,858.75 527.70,850.10 L534.40,853.70 L541.10,850.10 Q538.25,858.75 534.40,867.40 Z" fill="#000"/>
<line x1="279.20" y1="1003.55" x2="279.20" y2="968.70" stroke="#000" stroke-width="2.3" stroke-linecap="round"/>
<path d="M279.20,955.00 Q283.05,963.65 285.90,972.30 L279.20,968.70 L272.50,972.30 Q275.35,963.65 279.20,955.00 Z" fill="#000"/>
<line x1="652.83" y1="677.57" x2="630.12" y2="691.31" stroke="#000" stroke-width="1.8" stroke-linecap="round"/>
<path d="M618.40,698.40 Q623.81,690.63 629.73,683.71 L630.12,691.31 L636.67,695.18 Q627.79,697.22 618.40,698.40 Z" fill="#000"/>
<line x1="666.93" y1="785.44" x2="648.55" y2="774.44" stroke="#000" stroke-width="1.8" stroke-linecap="round"/>
<path d="M636.80,767.40 Q646.20,768.54 655.08,770.54 L648.55,774.44 L648.20,782.04 Q642.24,775.15 636.80,767.40 Z" fill="#000"/>
<line x1="652.80" y1="867.52" x2="632.14" y2="878.34" stroke="#000" stroke-width="1.8" stroke-linecap="round"/>
<path d="M620.00,884.70 Q625.88,877.28 632.22,870.74 L632.14,878.34 L638.43,882.61 Q629.45,884.10 620.00,884.70 Z" fill="#000"/>
<line x1="664.94" y1="968.61" x2="647.13" y2="957.19" stroke="#000" stroke-width="1.8" stroke-linecap="round"/>
<path d="M635.60,949.80 Q644.96,951.23 653.78,953.50 L647.13,957.19 L646.55,964.78 Q640.80,957.71 635.60,949.80 Z" fill="#000"/>
<text x="396.15" y="35.50" font-size="44" font-weight="bold" xml:space="preserve">a</text>
<path transform="translate(182.95,104.45) scale(0.019043,-0.019043)" d="M763 0h-180v1147q-65 -62 -170.5 -124t-189.5 -93v174q151 71 264 172t160 196h116v-1472z"/>
<text x="182.90" y="204.35" font-size="39" xml:space="preserve">0</text>
<text x="169.75" y="304.10" font-size="39" xml:space="preserve">-</text>
<path transform="translate(182.74,304.10) scale(0.019043,-0.019043)" d="M763 0h-180v1147q-65 -62 -170.5 -124t-189.5 -93v174q151 71 264 172t160 196h116v-1472z"/>
<text x="198.10" y="377.00" font-size="39" textLength="87.42" lengthAdjust="spacing" xml:space="preserve">3220</text>
<text x="352.70" y="376.00" font-size="39" textLength="87.47" lengthAdjust="spacing" xml:space="preserve">3240</text>
<text x="507.30" y="376.00" font-size="39" textLength="87.57" lengthAdjust="spacing" xml:space="preserve">3260</text>
<text x="294.30" y="430.20" font-size="39" textLength="307.58" lengthAdjust="spacing" xml:space="preserve">Magnetic field (G)</text>
<text transform="translate(84.80,326.00) rotate(-90)" font-size="39" textLength="238.20" lengthAdjust="spacing" xml:space="preserve">EPR signal of</text>
<text transform="translate(133.70,312.80) rotate(-90)" font-size="39" textLength="222.93" lengthAdjust="spacing" xml:space="preserve">Tamine (r.u.)</text>
<text x="398.15" y="504.45" font-size="44" font-weight="bold" xml:space="preserve">b</text>
<path transform="translate(78.95,571.25) scale(0.019043,-0.019043)" d="M763 0h-180v1147q-65 -62 -170.5 -124t-189.5 -93v174q151 71 264 172t160 196h116v-1472z"/>
<text x="100.64" y="571.25" font-size="39" xml:space="preserve">.0</text>
<text x="67.50" y="854.95" font-size="39" textLength="53.82" lengthAdjust="spacing" xml:space="preserve">0.9</text>
<text x="177.10" y="554.40" font-size="39" textLength="96.52" lengthAdjust="spacing" xml:space="preserve">Tacet</text>
<text x="175.70" y="843.45" font-size="39" textLength="129.93" lengthAdjust="spacing" xml:space="preserve">Tamine</text>
<text x="254.70" y="757.05" font-size="39" textLength="52.13" lengthAdjust="spacing" xml:space="preserve">On</text>
<text x="506.70" y="597.80" font-size="39" textLength="52.21" lengthAdjust="spacing" xml:space="preserve">Off</text>
<text x="663.30" y="668.70" font-size="39" textLength="122.92" lengthAdjust="spacing" xml:space="preserve">50 mW</text>
<path transform="translate(676.05,801.25) scale(0.019043,-0.019043)" d="M763 0h-180v1147q-65 -62 -170.5 -124t-189.5 -93v174q151 71 264 172t160 196h116v-1472z"/>
<text x="697.74" y="801.25" font-size="39" xml:space="preserve"> mW</text>
<text x="662.30" y="869.75" font-size="39" textLength="122.52" lengthAdjust="spacing" xml:space="preserve">50 mW</text>
<path transform="translate(675.55,992.60) scale(0.019043,-0.019043)" d="M763 0h-180v1147q-65 -62 -170.5 -124t-189.5 -93v174q151 71 264 172t160 196h116v-1472z"/>
<text x="697.24" y="992.60" font-size="39" xml:space="preserve"> mW</text>
<text x="325.70" y="1065.65" font-size="39" textLength="181.68" lengthAdjust="spacing" xml:space="preserve">White light</text>
<text x="131.90" y="1151.95" font-size="39" xml:space="preserve">-</text>
<path transform="translate(144.89,1151.95) scale(0.019043,-0.019043)" d="M763 0h-180v1147q-65 -62 -170.5 -124t-189.5 -93v174q151 71 264 172t160 196h116v-1472z"/>
<text x="266.80" y="1151.45" font-size="39" xml:space="preserve">0</text>
<path transform="translate(394.50,1151.45) scale(0.019043,-0.019043)" d="M763 0h-180v1147q-65 -62 -170.5 -124t-189.5 -93v174q151 71 264 172t160 196h116v-1472z"/>
<text x="523.70" y="1150.70" font-size="39" xml:space="preserve">2</text>
<text x="651.35" y="1151.45" font-size="39" xml:space="preserve">3</text>
<text x="322.90" y="1190.65" font-size="39" textLength="187.47" lengthAdjust="spacing" xml:space="preserve">Time (min)</text>
<text transform="translate(42.00,1144.00) rotate(-90)" font-size="39" textLength="610.31" lengthAdjust="spacing" xml:space="preserve">Amplitude  of the low-field line (r.u.)</text>
<path fill-rule="evenodd" d="M332.5,518.1 L343.1,543.4 L321.3,543.4 Z M331.4,523.9 L323.1,541.9 L339.1,541.9 Z" fill="#000"/>
<path d="M352.8,513.2 L357.0,513.2 L351.1,543.4 L346.7,543.4 Z" fill="#000"/>
</svg>
</body></html>
